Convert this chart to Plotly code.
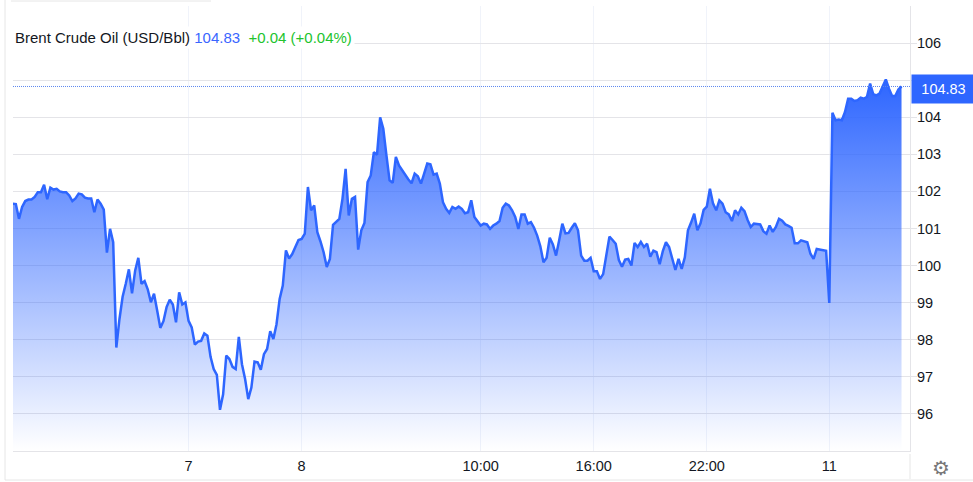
import plotly.graph_objects as go

# one reading about every 10 minutes
prices = [
    101.67, 101.66, 101.26, 101.58, 101.74, 101.78, 101.78, 101.85, 101.98, 101.98,
    102.18, 101.79, 102.10, 102.05, 102.07, 102.00, 101.98, 101.98, 101.89, 101.74,
    101.81, 101.94, 101.92, 101.83, 101.81, 101.81, 101.44, 101.78, 101.67, 101.51,
    100.35, 100.99, 100.63, 97.79, 98.56, 99.16, 99.51, 99.90, 99.25, 99.87,
    100.21, 99.51, 99.58, 99.36, 99.01, 99.24, 98.79, 98.32, 98.50, 98.88,
    99.08, 98.95, 98.47, 99.28, 98.95, 99.01, 98.51, 98.33, 97.87, 97.95,
    97.97, 98.17, 98.11, 97.54, 97.21, 97.05, 96.11, 96.53, 97.57, 97.48,
    97.27, 97.21, 98.08, 97.34, 96.94, 96.40, 96.71, 97.41, 97.39, 97.19,
    97.61, 97.75, 98.23, 98.02, 98.42, 99.10, 99.46, 100.41, 100.19, 100.31,
    100.50, 100.69, 100.72, 100.86, 102.12, 101.49, 101.62, 100.90, 100.65, 100.36,
    99.96, 100.18, 101.10, 101.17, 101.26, 101.80, 102.61, 101.35, 101.80, 101.85,
    100.43, 100.95, 101.15, 102.25, 102.43, 103.06, 102.99, 104.00, 103.69, 102.97,
    102.30, 102.23, 102.93, 102.70, 102.57, 102.45, 102.32, 102.22, 102.48, 102.41,
    102.21, 102.48, 102.75, 102.73, 102.45, 102.48, 102.21, 101.71, 101.53, 101.42,
    101.58, 101.53, 101.59, 101.53, 101.41, 101.44, 101.76, 101.31, 101.20, 101.08,
    101.13, 101.11, 100.99, 101.08, 101.13, 101.20, 101.56, 101.67, 101.62, 101.49,
    101.31, 100.99, 101.38, 101.38, 101.13, 101.17, 101.02, 100.81, 100.52, 100.09,
    100.21, 100.75, 100.57, 100.27, 100.68, 101.13, 100.87, 100.88, 101.02, 101.14,
    100.95, 100.27, 100.13, 100.13, 100.21, 99.85, 99.85, 99.64, 99.77, 100.27,
    100.78, 100.69, 100.59, 100.15, 99.97, 100.16, 100.18, 100.00, 100.61, 100.50,
    100.64, 100.50, 100.59, 100.24, 100.40, 100.36, 100.04, 100.39, 100.63, 100.50,
    100.22, 99.88, 100.18, 99.91, 100.22, 100.95, 101.16, 101.40, 100.95, 101.14,
    101.50, 101.59, 102.07, 101.67, 101.49, 101.76, 101.67, 101.44, 101.38, 101.20,
    101.49, 101.38, 101.56, 101.47, 101.23, 101.04, 101.13, 101.11, 101.11, 100.93,
    100.86, 101.08, 100.91, 101.04, 101.26, 101.21, 101.11, 101.07, 101.02, 100.60,
    100.60, 100.68, 100.66, 100.63, 100.32, 100.18, 100.45, 100.43, 100.43, 100.40,
    98.99, 104.12, 103.92, 103.94, 103.92, 104.14, 104.50, 104.50, 104.44, 104.46,
    104.53, 104.50, 104.55, 104.91, 104.62, 104.59, 104.64, 104.82, 105.02, 104.77,
    104.57, 104.57, 104.75, 104.83,
]
bars = list(range(len(prices)))

x_tick_bars = [56, 92, 149, 185, 221, 260]
x_tick_labels = ["7", "8", "10:00", "16:00", "22:00", "11"]
y_ticks = [96, 97, 98, 99, 100, 101, 102, 103, 104, 105, 106]
last_price = 104.83

BLUE = "#2e66ff"
GRID = "#e4e4e8"
VGRID = "#f0f3fa"
FRAME = "#e6e6e6"
TEXT = "#131722"
FONT = "Liberation Sans"

W, H = 973, 482
L, R, T, B = 13, 910, 6, 451


def px(x):
    return (x - L) / (R - L)


def py(y):
    return (B - y) / (B - T)


fig = go.Figure()
fig.add_trace(go.Scatter(
    x=bars,
    y=prices,
    mode="lines",
    line=dict(color=BLUE, width=2.5),
    fill="tozeroy",
    fillgradient=dict(
        type="vertical",
        colorscale=[[0, "rgba(46,102,255,0)"], [1, "rgba(46,102,255,1)"]],
        start=95,
        stop=105,
    ),
    hoverinfo="skip",
))

fig.update_layout(
    width=W,
    height=H,
    margin=dict(l=L, r=W - R, t=T, b=H - B),
    paper_bgcolor="white",
    plot_bgcolor="white",
    showlegend=False,
    font=dict(family=FONT, size=14, color=TEXT),
)
fig.update_xaxes(
    range=[0.1, 285.7],
    tickvals=x_tick_bars,
    ticktext=x_tick_labels,
    showgrid=True,
    gridcolor=VGRID,
    showline=True,
    linecolor=GRID,
    zeroline=False,
    ticks="outside",
    ticklen=2,
    tickcolor="rgba(0,0,0,0)",
    tickfont=dict(size=14.5),
)
fig.update_yaxes(
    range=[95, 107],
    side="right",
    tickvals=y_ticks,
    showgrid=True,
    gridcolor=GRID,
    showline=True,
    linecolor=GRID,
    zeroline=False,
    ticks="outside",
    ticklen=6,
    tickcolor=GRID,
    ticklabelstandoff=-3,
    tickfont=dict(size=14.5),
)

# last price: dotted line and the blue label on the axis
fig.add_shape(type="line", xref="paper", x0=0, x1=1, y0=last_price, y1=last_price,
              line=dict(color="#5c86ee", width=1, dash="1px,1px"))
fig.add_annotation(
    xref="paper", x=px(911), y=last_price, xanchor="left", yshift=-3,
    text=f"{last_price}", showarrow=False, bgcolor=BLUE, width=61, height=26,
    font=dict(color="white", size=14.5),
)

# header, its white box hides the grid behind it
fig.add_annotation(
    xref="paper", yref="paper", x=px(12), y=py(37), xanchor="left", yanchor="middle",
    showarrow=False, bgcolor="white", borderpad=2,
    text=(f"Brent Crude Oil (USD/Bbl) <span style='color:#3a66ff'>{last_price}</span>"
          "  <span style='color:#22c32e'>+0.04 (+0.04%)</span>"),
    font=dict(size=15),
)

# outer frame and the axis separator under the price scale
for x0, y0, x1, y1 in [(5, 0, 5, 480), (5, 480, W, 480), (11, 1, 211, 1), (R, B + 3, R, 479)]:
    fig.add_shape(type="line", xref="paper", yref="paper",
                  x0=px(x0), x1=px(x1), y0=py(y0), y1=py(y1),
                  line=dict(color=FRAME, width=1))

fig.add_annotation(
    xref="paper", yref="paper", x=px(941), y=py(468), xanchor="center", yanchor="middle",
    showarrow=False, text="⚙", font=dict(family="DejaVu Sans", size=20, color="#777777"),
)

fig.write_html("out.html", config={"displayModeBar": False},
               post_script="document.body.style.margin='0';")
